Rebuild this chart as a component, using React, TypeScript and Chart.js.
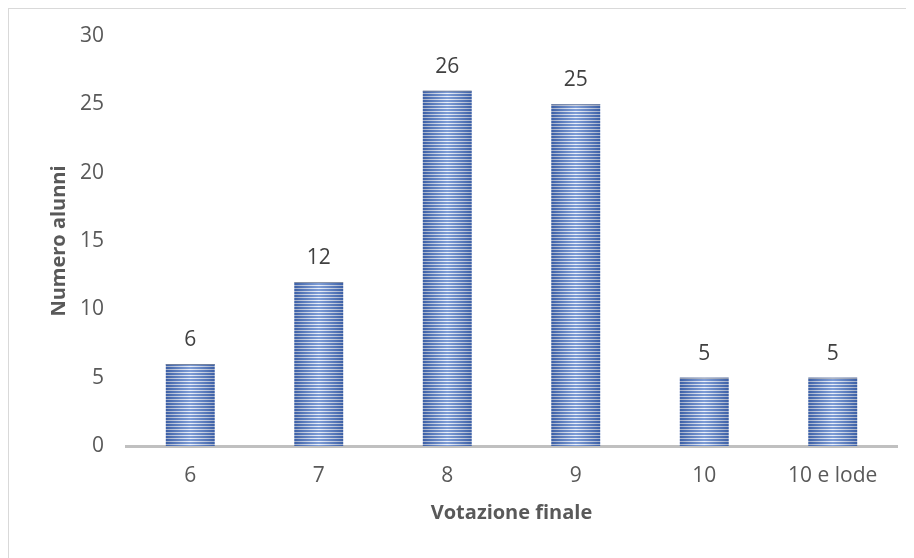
import React, { useEffect, useRef } from "react";
import { Chart, registerables } from "chart.js";

Chart.register(...registerables);

const categories = ["6", "7", "8", "9", "10", "10 e lode"];
const studentCounts = [6, 12, 26, 25, 5, 5];
const yTicks = [0, 5, 10, 15, 20, 25, 30];

const FONT = "'Open Sans', 'Noto Sans', sans-serif";

function makeStripePattern(ctx: CanvasRenderingContext2D): CanvasPattern | string {
  const c = document.createElement("canvas");
  c.width = 4;
  c.height = 3;
  const g = c.getContext("2d");
  if (!g) return "#4a77c9";
  g.fillStyle = "#e3eaf7";
  g.fillRect(0, 0, 4, 1);
  g.fillStyle = "#4672c4";
  g.fillRect(0, 1, 4, 2);
  return ctx.createPattern(c, "repeat") || "#4a77c9";
}

const barOverlay = {
  id: "barOverlay",
  afterDatasetsDraw(chart: any) {
    const ctx: CanvasRenderingContext2D = chart.ctx;
    const meta = chart.getDatasetMeta(0);
    meta.data.forEach((bar: any, i: number) => {
      const { x, y, base, width } = bar.getProps(["x", "y", "base", "width"], true);
      const left = x - width / 2;
      const grad = ctx.createLinearGradient(left, 0, left + width, 0);
      grad.addColorStop(0, "rgba(40,60,110,0.35)");
      grad.addColorStop(0.5, "rgba(255,255,255,0.3)");
      grad.addColorStop(1, "rgba(40,60,110,0.35)");
      ctx.save();
      ctx.fillStyle = grad;
      ctx.fillRect(left, y, width, base - y);
      ctx.fillStyle = "rgba(120,130,150,0.8)";
      ctx.fillRect(left, y, width, 1);
      ctx.fillStyle = "#404040";
      ctx.font = `21px ${FONT}`;
      ctx.textAlign = "center";
      ctx.textBaseline = "alphabetic";
      ctx.fillText(String(studentCounts[i]), x, y - 18);
      ctx.restore();
    });
  },
};

export default function App() {
  const canvasRef = useRef<HTMLCanvasElement | null>(null);

  useEffect(() => {
    const canvas = canvasRef.current;
    if (!canvas) return;
    const ctx = canvas.getContext("2d");
    if (!ctx) return;
    const pattern = makeStripePattern(ctx);
    const chart = new Chart(canvas, {
      type: "bar",
      data: {
        labels: categories,
        datasets: [
          {
            label: "Numero alunni",
            data: studentCounts,
            backgroundColor: pattern as any,
            borderWidth: 0,
            categoryPercentage: 1,
            barPercentage: 0.38,
          },
        ],
      },
      options: {
        animation: false,
        responsive: false,
        maintainAspectRatio: false,
        layout: { padding: { top: 27, right: 17, left: 0, bottom: 0 } },
        plugins: {
          legend: { display: false },
          tooltip: { enabled: false },
        },
        scales: {
          x: {
            grid: { display: false, drawTicks: false },
            border: { display: true, color: "#c0c0c0", width: 3 },
            ticks: {
              color: "#595959",
              font: { family: FONT, size: 21 },
              padding: 17,
            },
            title: {
              display: true,
              text: "Votazione finale",
              color: "#595959",
              font: { family: FONT, size: 20, weight: "bold" },
              padding: { top: 0, bottom: 33 },
            },
            afterFit(scale: any) {
              scale.height = 112;
            },
          },
          y: {
            min: 0,
            max: 30,
            grid: { display: false, drawTicks: false },
            border: { display: false },
            afterBuildTicks(scale: any) {
              scale.ticks = yTicks.map((v) => ({ value: v }));
            },
            ticks: {
              color: "#595959",
              font: { family: FONT, size: 21 },
              padding: 22,
            },
            title: {
              display: true,
              text: "Numero alunni",
              color: "#595959",
              font: { family: FONT, size: 20, weight: "bold" },
              padding: { top: 38, bottom: 0 },
            },
            afterFit(scale: any) {
              scale.width = 117;
              scale.paddingTop = 0;
              scale.paddingBottom = 0;
            },
          },
        },
      },
      plugins: [barOverlay],
    });
    return () => chart.destroy();
  }, []);

  return (
    <div
      style={{
        width: 905,
        height: 549,
        borderTop: "1px solid #d9d9d9",
        borderLeft: "1px solid #d9d9d9",
        background: "#ffffff",
        overflow: "hidden",
      }}
    >
      <canvas ref={canvasRef} width={905} height={549} style={{ display: "block", width: 905, height: 549 }} />
    </div>
  );
}
